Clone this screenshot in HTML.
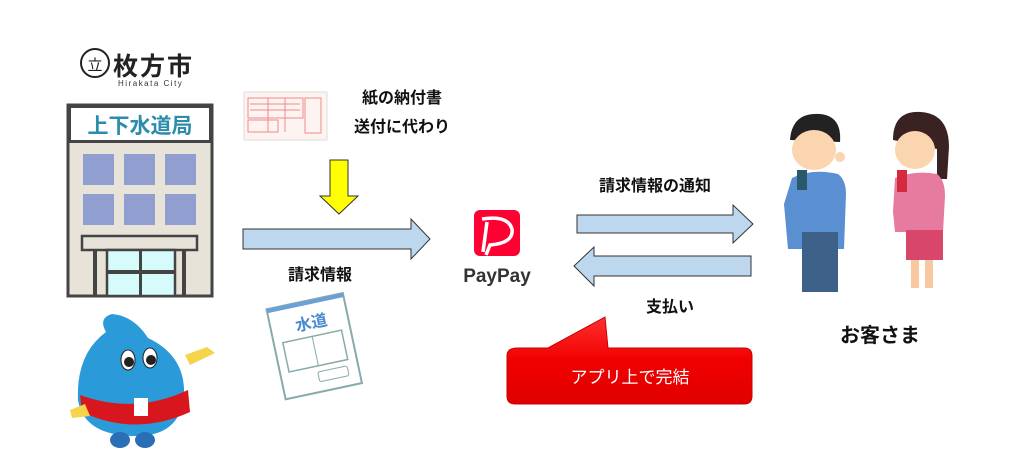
<!DOCTYPE html>
<html><head><meta charset="utf-8"><style>
html,body{margin:0;padding:0;background:#fff;width:1009px;height:476px;overflow:hidden}
svg{display:block}
text{font-family:"Liberation Sans","Noto Sans CJK JP",sans-serif}
</style></head><body>
<svg width="1009" height="476" viewBox="0 0 1009 476" xmlns="http://www.w3.org/2000/svg">
<defs>
<linearGradient id="red" x1="0" y1="0" x2="0" y2="1"><stop offset="0" stop-color="#ff3030"/><stop offset="0.5" stop-color="#f00000"/><stop offset="1" stop-color="#e00000"/></linearGradient>
</defs>
<!-- logo -->
<circle cx="95" cy="63" r="14" fill="none" stroke="#222" stroke-width="2"/>
<text x="95" y="70" font-size="15" text-anchor="middle" fill="#222">立</text>
<text x="113" y="75" font-size="25" fill="#222" font-family="Liberation Serif,'Noto Serif CJK SC',serif" font-weight="bold" letter-spacing="2">枚方市</text>
<text x="118" y="86" font-size="8" fill="#333" letter-spacing="1.5">Hirakata City</text>
<!-- building -->
<rect x="68" y="105" width="144" height="191" fill="#e7e3d8" stroke="#444" stroke-width="3"/>
<rect x="69.5" y="106.5" width="141" height="35" fill="#fff" stroke="#444" stroke-width="3"/>
<text x="140" y="133" font-size="21" font-weight="bold" fill="#2b8cab" text-anchor="middle">上下水道局</text>
<g fill="#919fd0">
<rect x="83" y="154" width="31" height="31"/><rect x="124" y="154" width="31" height="31"/><rect x="165" y="154" width="31" height="31"/>
<rect x="83" y="194" width="31" height="31"/><rect x="124" y="194" width="31" height="31"/><rect x="165" y="194" width="31" height="31"/>
</g>
<rect x="82" y="236" width="115" height="14" fill="#e7e3d8" stroke="#444" stroke-width="2.5"/>
<rect x="93" y="250" width="4" height="46" fill="#444"/><rect x="182" y="250" width="4" height="46" fill="#444"/>
<rect x="107" y="250" width="68" height="46" fill="#d6fbfb" stroke="#444" stroke-width="2.5"/>
<rect x="107" y="270" width="68" height="4" fill="#444"/><rect x="139" y="250" width="3" height="46" fill="#444"/>
<!-- mascot -->
<path d="M112 314 q-14 4 -6 18 q-30 22 -28 68 q6 36 58 36 q44 0 48 -40 q2 -40 -36 -58 q-14 -22 -36 -24z" fill="#2a9ad8"/>
<path d="M80 395 q55 20 108 -5 l2 22 q-55 25 -108 0z" fill="#d8161e"/>
<rect x="134" y="398" width="14" height="18" fill="#fff"/>
<ellipse cx="128" cy="360" rx="7" ry="10" fill="#fff" stroke="#222"/><ellipse cx="150" cy="358" rx="7" ry="10" fill="#fff" stroke="#222"/>
<circle cx="129" cy="362" r="5" fill="#222"/><circle cx="151" cy="360" r="5" fill="#222"/>
<path d="M185 355 l22 -8 l8 6 l-25 12z" fill="#f5d34a"/>
<path d="M70 410 l15 -6 l5 12 l-18 2z" fill="#f5d34a"/>
<ellipse cx="120" cy="440" rx="10" ry="8" fill="#2a6fb5"/><ellipse cx="145" cy="440" rx="10" ry="8" fill="#2a6fb5"/>
<!-- bill -->
<rect x="244" y="92" width="83" height="48" fill="#fdf3f0" stroke="#ddd"/>
<g fill="none" stroke="#f08a8a" stroke-width="1">
<rect x="248" y="98" width="55" height="20"/><rect x="248" y="120" width="30" height="12"/><rect x="305" y="98" width="16" height="35"/>
<line x1="250" y1="104" x2="300" y2="104"/><line x1="250" y1="110" x2="300" y2="110"/><line x1="268" y1="98" x2="268" y2="132"/><line x1="285" y1="98" x2="285" y2="132"/>
</g>
<text x="402" y="103" font-size="16" font-weight="bold" text-anchor="middle" fill="#111">紙の納付書</text>
<text x="402" y="132" font-size="16" font-weight="bold" text-anchor="middle" fill="#111">送付に代わり</text>
<!-- yellow arrow -->
<polygon points="330,160 348,160 348,196 358,196 339,214 320,196 330,196" fill="#ffff00" stroke="#333" stroke-width="1"/>
<!-- arrow right 1 -->
<polygon points="243,229 411,229 411,219 430,239 411,259 411,249 243,249" fill="#bdd7ee" stroke="#333" stroke-width="1"/>
<text x="320" y="280" font-size="16" font-weight="bold" text-anchor="middle" fill="#111">請求情報</text>
<!-- paper -->
<g transform="rotate(-12 315 345)">
<rect x="275" y="300" width="78" height="92" fill="#fff" stroke="#8aa" stroke-width="2"/>
<rect x="275" y="300" width="78" height="4" fill="#6aa0d8"/>
<text x="300" y="328" font-size="16" font-weight="bold" fill="#4a8bd0">水道</text>
<rect x="284" y="336" width="60" height="30" fill="none" stroke="#8aa" stroke-width="1.5"/>
<line x1="314" y1="336" x2="314" y2="366" stroke="#8aa"/>
<rect x="312" y="372" width="30" height="10" rx="2" fill="none" stroke="#8aa"/>
</g>
<!-- PayPay -->
<rect x="474" y="210" width="46" height="46" rx="6" fill="#ff0033"/>
<path d="M482 219 q26 -4 30 10 q2 14 -22 16 l-4 10" fill="none" stroke="#fff" stroke-width="3.5"/>
<path d="M487 222 l-4 30" stroke="#fff" stroke-width="3.5"/>
<text x="497" y="282" font-size="19" font-weight="bold" text-anchor="middle" fill="#333">PayPay</text>
<!-- arrows right side -->
<text x="655" y="191" font-size="16" font-weight="bold" text-anchor="middle" fill="#111">請求情報の通知</text>
<polygon points="577,215 733,215 733,205 753,224 733,243 733,233 577,233" fill="#bdd7ee" stroke="#333" stroke-width="1"/>
<polygon points="751,256 594,256 594,247 574,266 594,286 594,276 751,276" fill="#bdd7ee" stroke="#333" stroke-width="1"/>
<text x="670" y="312" font-size="16" font-weight="bold" text-anchor="middle" fill="#111">支払い</text>
<!-- callout -->
<path d="M517 348 L548 348 L605 317 L608 348 L744 348 Q752 348 752 356 L752 396 Q752 404 744 404 L515 404 Q507 404 507 396 L507 356 Q507 348 517 348Z" fill="url(#red)" stroke="#c00" stroke-width="1"/>
<text x="630" y="383" font-size="17" text-anchor="middle" fill="#fff">アプリ上で完結</text>
<!-- man -->
<path d="M790 140 q2 -28 30 -26 q22 2 20 28z" fill="#222"/>
<ellipse cx="814" cy="150" rx="22" ry="20" fill="#fbd4b0"/>
<circle cx="840" cy="157" r="5" fill="#fbd4b0"/>
<path d="M792 178 q20 -10 46 -4 q8 6 8 20 l-2 55 l-56 0 l-4 -45z" fill="#5a8fd2"/>
<rect x="797" y="170" width="10" height="20" fill="#2a5a6a"/>
<rect x="802" y="232" width="36" height="60" fill="#3d6088"/>
<!-- woman -->
<path d="M893 140 q0 -30 28 -28 q28 2 28 35 l-2 32 l-10 0 l0 -30z" fill="#3a2222"/>
<ellipse cx="915" cy="150" rx="20" ry="19" fill="#fbd4b0"/>
<path d="M895 178 q20 -8 42 -4 q8 6 8 22 l-2 36 l-48 0 l-2 -20z" fill="#e67a9f"/>
<rect x="897" y="170" width="10" height="22" fill="#d42a40"/>
<rect x="906" y="230" width="37" height="30" fill="#d8466c"/>
<rect x="911" y="260" width="8" height="28" fill="#f8c9a0"/><rect x="925" y="260" width="8" height="28" fill="#f8c9a0"/>
<text x="880" y="342" font-size="20" font-weight="bold" text-anchor="middle" fill="#111">お客さま</text>
</svg>
</body></html>
